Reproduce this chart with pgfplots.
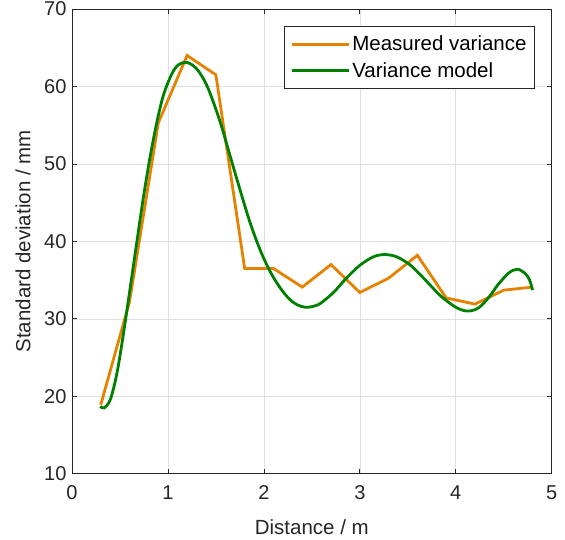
\documentclass[border=0pt]{standalone}
\usepackage{pgfplots}
\pgfplotsset{compat=1.18}
\usepackage{fontspec}
\setmainfont{Liberation Sans}
\definecolor{morange}{RGB}{230,130,0}
\definecolor{mgreen}{RGB}{0,128,0}
\definecolor{axgray}{RGB}{38,38,38}
\definecolor{gridgray}{RGB}{223,223,223}
\begin{document}
\begin{tikzpicture}
\begin{axis}[
  scale only axis,
  width=480pt, height=465pt,
  xmin=0, xmax=5, ymin=10, ymax=70,
  xtick={0,1,2,3,4,5},
  ytick={10,20,30,40,50,60,70},
  grid=major,
  major grid style={gridgray, line width=0.6pt},
  axis line style={axgray, line width=0.7pt},
  tick style={axgray, line width=0.7pt},
  major tick length=5pt,
  tick align=inside,
  xtick pos=both, ytick pos=both,
  /pgf/number format/assume math mode=true,
  tick label style={font=\fontsize{20}{24}\selectfont, text=axgray},
  xticklabel style={yshift=-8pt},
  yticklabel style={xshift=-2pt},
  label style={font=\fontsize{20.5}{24}\selectfont, text=axgray},
  xlabel={Distance / m},
  ylabel={Standard deviation / mm},
  xlabel style={at={(axis description cs:0.5,-0.114)}, anchor=center},
  ylabel style={at={(axis description cs:-0.102,0.5)}, anchor=center},
  legend style={
    at={(0.965,0.963)}, anchor=north east,
    font=\fontsize{20.5}{24}\selectfont,
    draw=axgray, line width=0.7pt,
    inner xsep=6pt, inner ysep=7.5pt,
    row sep=6pt,
  },
  legend cell align=left,
  legend image code/.code={\draw[#1, line width=2.8pt] (0pt,0pt) -- (57pt,0pt);},
]
\coordinate (bl) at (rel axis cs:0,0);
\coordinate (tr) at (rel axis cs:1,1);
\addplot[morange, line width=2.8pt, line join=miter] coordinates {
(0.3,18.9) (0.6,32.2) (0.9,55.3) (1.2,64.0) (1.5,61.5) (1.8,36.5)
(2.1,36.5) (2.4,34.1) (2.7,37.0) (3.0,33.4) (3.3,35.25) (3.6,38.2)
(3.9,32.7) (4.2,31.9) (4.5,33.7) (4.8,34.1)
};
\addlegendentry{Measured variance}
\addplot[mgreen, smooth, tension=0.55, line width=2.8pt] coordinates {
(0.295,18.7) (0.336,18.5) (0.40,19.6) (0.469,23.0) (0.538,28.2)
(0.607,34.0) (0.677,40.0) (0.746,45.8) (0.816,51.0) (0.885,55.4)
(0.954,58.9) (1.04,61.6) (1.11,62.8) (1.198,63.1) (1.29,62.4) (1.37,61.0)
(1.44,59.1) (1.545,55.4) (1.649,51.0) (1.753,46.6) (1.857,42.4)
(1.961,38.9) (2.066,36.1) (2.17,34.0) (2.27,32.5) (2.35,31.8) (2.43,31.5)
(2.51,31.6) (2.59,32.0) (2.725,33.4) (2.86,35.25) (3.0,36.9) (3.14,38.0)
(3.26,38.3) (3.385,38.0) (3.52,37.0) (3.63,35.7) (3.73,34.4)
(3.83,33.1) (3.94,32.0) (4.03,31.3) (4.13,31.0) (4.235,31.4)
(4.34,32.7) (4.44,34.4) (4.55,35.9) (4.64,36.4) (4.72,35.9)
(4.77,35.0) (4.80,33.7)
};
\addlegendentry{Variance model}
\end{axis}
\pgfresetboundingbox
\path ([shift={(-72pt,-66pt)}]bl) rectangle ([shift={(13.3pt,9pt)}]tr);
\end{tikzpicture}
\end{document}
